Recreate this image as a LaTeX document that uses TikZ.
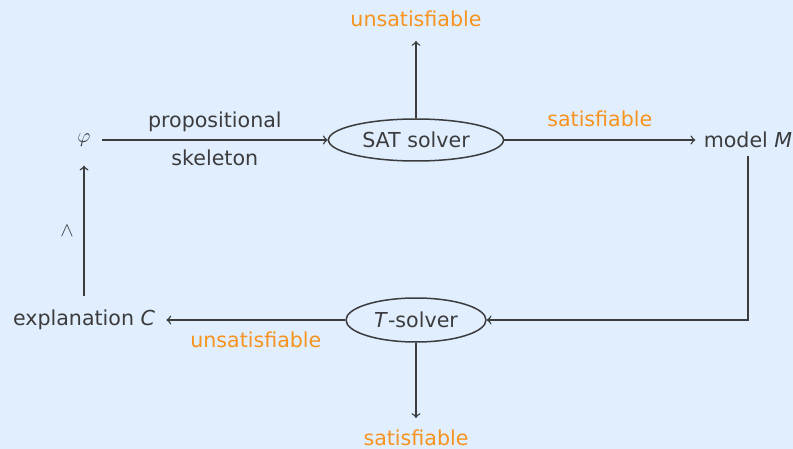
\documentclass[tikz,border=0pt]{standalone}
\usepackage{amsmath}
\usepackage{fontspec}
\setmainfont{DejaVu Sans}
\usepackage{tikz}
\usetikzlibrary{shapes.geometric, positioning}
\definecolor{canvas}{RGB}{224, 238, 253}
\definecolor{ink}{RGB}{60, 60, 62}
\definecolor{verdict}{RGB}{247, 147, 30}

\tikzset{
  solver/.style={draw=ink, ellipse, line width=0.75pt, inner sep=0pt},
  result/.style={text=verdict},
  flow/.style={->, draw=ink, line width=0.7pt}
}

\begin{document}
\begin{tikzpicture}[x=0.5pt, y=-0.5pt, font=\fontsize{10.3}{12}\selectfont, text=ink]
  \useasboundingbox[fill=canvas] (0,0) rectangle (793,449);

  % solvers
  \node[solver, minimum width=87.5pt, minimum height=21pt] (sat) at (416,140) {SAT solver};
  \node[solver, minimum width=70pt, minimum height=22pt] (tsolver) at (416,320) {\textit{T}-solver};

  % formula, model and explanation
  \node[inner xsep=5.5pt, inner ysep=9.5pt] (phi) at (84,140) {$\varphi$};
  \node[inner sep=4pt] (model) at (748,140) {model \textit{M}};
  \node[inner xsep=5.5pt, inner ysep=7pt] (expl) at (84,320) {explanation \textit{C}};

  % outcomes
  \node[result] (satunsat) at (416,19) {unsatisfiable};
  \node[result] (tsat) at (416,438) {satisfiable};

  \draw[flow] (phi) -- node[above=0.5pt] {propositional} node[below=1pt] {skeleton} (sat);
  \draw[flow, shorten >=3.5pt] (sat) -- (satunsat);
  \draw[flow] (sat) -- node[result, above=3pt] {satisfiable} (model);
  \draw[flow] (model.south) |- (tsolver);
  \draw[flow] (tsolver) -- node[result, below=2pt] {unsatisfiable} (expl);
  \draw[flow, shorten >=2.5pt] (tsolver) -- (tsat);
  \draw[flow] (expl) -- node[left=1.5pt] {$\land$} (phi);
\end{tikzpicture}
\end{document}
